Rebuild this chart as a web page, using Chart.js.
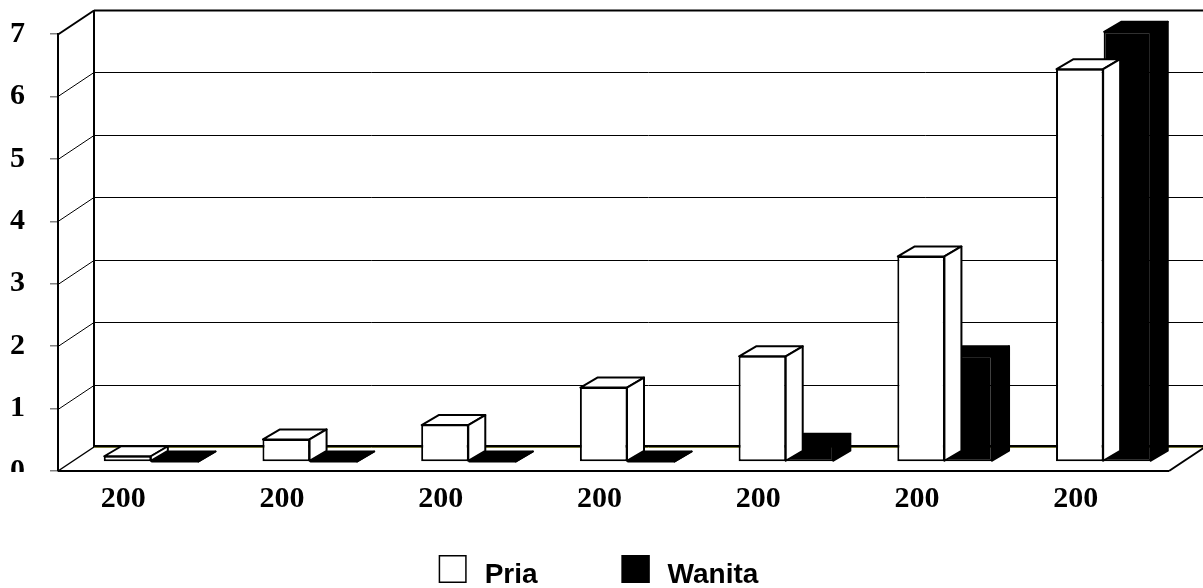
<!DOCTYPE html>
<html>
<head>
<meta charset="utf-8">
<script src="https://cdn.jsdelivr.net/npm/chart.js@4.4.1/dist/chart.umd.min.js"></script>
<style>
html, body { margin: 0; padding: 0; background: #fff; }
#wrap { width: 1203px; height: 588px; position: relative; }
</style>
</head>
<body>
<div id="wrap"><canvas id="grafico"></canvas></div>
<script>
// dados do grafico
var categorias = ['200', '200', '200', '200', '200', '200', '200'];
var pria = [0.1, 0.37, 0.6, 1.2, 1.7, 3.3, 6.3];
var wanita = [0, 0, 0, 0, 0.3, 1.7, 6.9];
var ticksY = [0, 1, 2, 3, 4, 5, 6, 7];

// profundidade do efeito 3D
var PAREDE = { dx: 36, dy: -24 };   // parede do fundo
var FRENTE = { dx: 14, dy: -9 };    // plano frontal das barras
var BARRA = { dx: 17, dy: -10 };    // espessura das barras

function linha(ctx, x1, y1, x2, y2) {
    ctx.beginPath();
    ctx.moveTo(x1, y1);
    ctx.lineTo(x2, y2);
    ctx.stroke();
}

var caixa3d = {
    id: 'caixa3d',
    beforeDatasetsDraw: function (chart) {
        var ctx = chart.ctx, a = chart.chartArea, ys = chart.scales.y;
        var fx = a.left, bx = a.left + PAREDE.dx;
        var y0 = Math.round(ys.getPixelForValue(0));
        var yMax = Math.round(ys.getPixelForValue(ticksY[ticksY.length - 1]));
        ctx.save();
        ctx.strokeStyle = '#000';
        ticksY.forEach(function (v) {
            if (v === 0) return;
            var y = Math.round(ys.getPixelForValue(v));
            ctx.lineWidth = v === ticksY[ticksY.length - 1] ? 2 : 1;
            linha(ctx, fx, y + 0.5, bx, y + PAREDE.dy + 0.5);
            linha(ctx, bx, y + PAREDE.dy + 0.5, chart.width, y + PAREDE.dy + 0.5);
        });
        // parede lateral
        ctx.lineWidth = 2;
        linha(ctx, bx, yMax + PAREDE.dy, bx, y0 + PAREDE.dy);
        // chao
        ctx.lineWidth = 1.5;
        linha(ctx, fx, y0, bx, y0 + PAREDE.dy);
        ctx.lineWidth = 2;
        linha(ctx, bx, y0 + PAREDE.dy - 1, chart.width, y0 + PAREDE.dy - 1);
        ctx.strokeStyle = '#7a7a3a';
        ctx.lineWidth = 1;
        linha(ctx, bx, y0 + PAREDE.dy + 0.5, chart.width, y0 + PAREDE.dy + 0.5);
        ctx.strokeStyle = '#000';
        ctx.lineWidth = 2;
        linha(ctx, fx, y0, a.right, y0);
        linha(ctx, a.right, y0, a.right + PAREDE.dx, y0 + PAREDE.dy);
        ctx.restore();

        // barras no plano do meio
        ctx.save();
        ctx.translate(FRENTE.dx, FRENTE.dy);
    },
    afterDatasetDraw: function (chart, args) {
        var ctx = chart.ctx;
        var ds = chart.data.datasets[args.index];
        ctx.save();
        ctx.fillStyle = ds.backgroundColor;
        ctx.strokeStyle = ds.borderColor;
        ctx.lineWidth = 2;
        ctx.lineJoin = 'round';
        args.meta.data.forEach(function (bar) {
            var p = bar.getProps(['x', 'y', 'base', 'width'], true);
            var l = p.x - p.width / 2 + 0.5, r = p.x + p.width / 2 - 0.5;
            var t = p.y + 0.5, b = p.base - 0.5;
            if (t > b) t = b;
            // topo
            ctx.beginPath();
            ctx.moveTo(l, t);
            ctx.lineTo(l + BARRA.dx, t + BARRA.dy);
            ctx.lineTo(r + BARRA.dx, t + BARRA.dy);
            ctx.lineTo(r, t);
            ctx.closePath();
            ctx.fill();
            ctx.stroke();
            // lateral
            ctx.beginPath();
            ctx.moveTo(r, t);
            ctx.lineTo(r + BARRA.dx, t + BARRA.dy);
            ctx.lineTo(r + BARRA.dx, b + BARRA.dy);
            ctx.lineTo(r, b);
            ctx.closePath();
            ctx.fill();
            ctx.stroke();
        });
        ctx.restore();
    },
    afterDatasetsDraw: function (chart) {
        chart.ctx.restore();
    },
    afterDraw: function (chart) {
        var ctx = chart.ctx, a = chart.chartArea;
        ctx.save();
        // rotulo "0" cortado como no original
        ctx.fillStyle = '#fff';
        ctx.fillRect(0, a.bottom + 1, chart.scales.y.left + 45, 16);

        // legenda
        ctx.font = 'bold 28px "Liberation Sans", Arial, sans-serif';
        ctx.textBaseline = 'alphabetic';
        var caixa = 28, espaco = 18, entre = 84;
        var itens = chart.data.datasets.map(function (ds) {
            return { ds: ds, w: caixa + espaco + ctx.measureText(ds.label).width };
        });
        var total = itens.reduce(function (s, it) { return s + it.w; }, 0) + entre * (itens.length - 1);
        var x = (chart.width - total) / 2 - 3;
        var base = 583;
        itens.forEach(function (it) {
            ctx.fillStyle = it.ds.backgroundColor;
            ctx.fillRect(x, base - caixa, caixa, caixa);
            ctx.strokeStyle = '#000';
            ctx.lineWidth = 1.5;
            ctx.strokeRect(x + 0.75, base - caixa + 0.75, caixa - 1.5, caixa - 1.5);
            ctx.fillStyle = '#000';
            ctx.fillText(it.ds.label, x + caixa + espaco, base);
            x += it.w + entre;
        });
        ctx.restore();
    }
};

Chart.defaults.font.family = '"Liberation Serif", "Times New Roman", serif';
Chart.defaults.color = '#000';

var ctx = document.getElementById('grafico');

var myChart = new Chart(ctx, {
    type: 'bar',
    data: {
        labels: categorias,
        datasets: [
            {
                label: 'Pria',
                data: pria,
                backgroundColor: '#ffffff',
                borderColor: '#000000',
                borderWidth: 2,
                borderSkipped: false,
                clip: false
            },
            {
                label: 'Wanita',
                data: wanita,
                backgroundColor: '#000000',
                borderColor: '#000000',
                borderWidth: 2,
                borderSkipped: false,
                clip: false
            }
        ]
    },
    options: {
        responsive: true,
        maintainAspectRatio: false,
        animation: false,
        events: [],
        layout: {
            padding: { top: 34, right: 34, bottom: 0, left: 0 }
        },
        datasets: {
            bar: { barPercentage: 1, categoryPercentage: 0.6 }
        },
        scales: {
            y: {
                min: 0,
                max: 7,
                afterFit: function (scale) {
                    scale.width = 58;
                    scale.paddingTop = 0;
                    scale.paddingBottom = 0;
                },
                ticks: {
                    stepSize: 1,
                    padding: 25,
                    font: { size: 30, weight: 'bold' }
                },
                grid: {
                    drawOnChartArea: false,
                    drawTicks: true,
                    tickLength: 8,
                    color: '#808080',
                    lineWidth: 1.5
                },
                border: { display: true, color: '#000', width: 2 }
            },
            x: {
                afterFit: function (scale) { scale.height = 117; },
                ticks: {
                    padding: 10,
                    labelOffset: -14,
                    maxRotation: 0,
                    font: { size: 30, weight: 'bold' }
                },
                grid: { display: false, drawTicks: false },
                border: { display: false }
            }
        },
        plugins: {
            legend: { display: false },
            tooltip: { enabled: false }
        }
    },
    plugins: [caixa3d]
});
</script>
</body>
</html>
